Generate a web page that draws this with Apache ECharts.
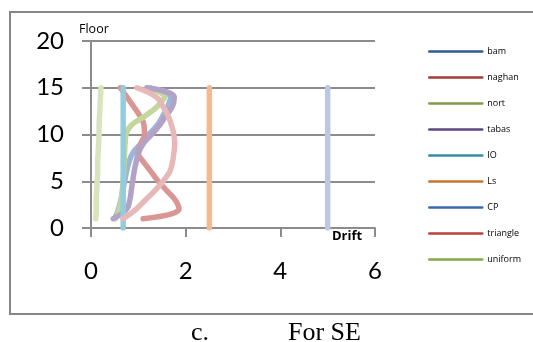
<!DOCTYPE html>
<html>
<head>
<meta charset="utf-8">
<script src="https://cdn.jsdelivr.net/npm/echarts@6/dist/echarts.min.js"></script>
<style>
html,body{margin:0;padding:0;background:#fff;overflow:hidden;}
#c{width:533px;height:342px;}
</style>
</head>
<body>
<div id="c"></div>
<script>
// Floors (storey numbers) for the profile series
const floors   = [1, 2, 3, 4, 5, 6, 7, 8, 9, 10, 11, 12, 13, 14, 15];
// Drift values per floor
const bam      = [0.50, 0.58, 0.63, 0.67, 0.71, 0.75, 0.80, 0.88, 1.05, 1.22, 1.40, 1.52, 1.62, 1.68, 1.20];
const naghan   = [1.10, 1.86, 1.78, 1.60, 1.42, 1.27, 1.12, 1.00, 1.05, 1.13, 1.12, 1.03, 0.90, 0.76, 0.62];
const nort     = [0.52, 0.60, 0.64, 0.66, 0.68, 0.69, 0.70, 0.71, 0.72, 0.74, 0.85, 1.15, 1.40, 1.55, 1.22];
const tabas    = [0.47, 0.75, 0.82, 0.85, 0.88, 0.91, 0.95, 1.00, 1.10, 1.28, 1.45, 1.58, 1.72, 1.76, 1.18];
const triangle = [0.68, 0.95, 1.15, 1.35, 1.52, 1.66, 1.72, 1.75, 1.77, 1.75, 1.70, 1.63, 1.52, 1.38, 0.97];
const uniform  = [0.10, 0.11, 0.11, 0.12, 0.13, 0.14, 0.14, 0.15, 0.16, 0.17, 0.17, 0.18, 0.19, 0.20, 0.21];
// Performance limits (vertical lines from floor 0 to 15)
const limitFloors = [0, 15];
const IO = 0.68;
const Ls = 2.5;
const CP = 5.0;

const seriesNames = ['bam', 'naghan', 'nort', 'tabas', 'IO', 'Ls', 'CP', 'triangle', 'uniform'];
const xTicks = { min: 0, max: 6, interval: 2 };
const yTicks = { min: 0, max: 20, interval: 5 };

const plotColor = {
  bam: '#9DB6D8', naghan: '#D99694', nort: '#C3D69B', tabas: '#B3A2C7',
  IO: '#93CDDD', Ls: '#F7B990', CP: '#B9C9E2', triangle: '#E6B9B8', uniform: '#D7E4BD'
};
const legendColor = {
  bam: '#2F5B94', naghan: '#A33D3A', nort: '#7C9C47', tabas: '#5E4A82', IO: '#358DA5',
  Ls: '#C87731', CP: '#3A6AAE', triangle: '#B8423F', uniform: '#86A84A'
};

const profile = { bam, naghan, nort, tabas, triangle, uniform };
const limits = { IO, Ls, CP };

function seriesData(name) {
  if (profile[name]) return floors.map((f, i) => [profile[name][i], f]);
  return limitFloors.map(f => [limits[name], f]);
}

const axisGray = '#8C8C8C';
const chart = echarts.init(document.getElementById('c'));
chart.setOption({
  animation: false,
  grid: { left: 91, right: 158, top: 41, bottom: 114 },
  xAxis: {
    type: 'value', min: xTicks.min, max: xTicks.max, interval: xTicks.interval,
    axisLine: { show: true, lineStyle: { color: axisGray, width: 2 } },
    axisTick: { show: true, length: 9, lineStyle: { color: axisGray, width: 2 } },
    splitLine: { show: false },
    axisLabel: { margin: 31, fontSize: 24, color: '#000', fontFamily: 'Lato' }
  },
  yAxis: {
    type: 'value', min: yTicks.min, max: yTicks.max, interval: yTicks.interval,
    axisLine: { show: true, lineStyle: { color: axisGray, width: 2 } },
    axisTick: { show: true, length: 9, lineStyle: { color: axisGray, width: 2 } },
    splitLine: { show: true, lineStyle: { color: axisGray, width: 2 } },
    axisLabel: { margin: 27, fontSize: 24, color: '#000', fontFamily: 'Lato' }
  },
  legend: {
    orient: 'vertical', left: 423, top: 41,
    itemWidth: 53, itemHeight: 14, itemGap: 14.8,
    textStyle: { fontSize: 9, color: '#000', fontFamily: 'Open Sans' },
    data: seriesNames.map(n => ({
      name: n,
      itemStyle: { opacity: 0 },
      lineStyle: { color: legendColor[n], width: 2.5, opacity: 1 }
    }))
  },
  series: seriesNames.map(n => ({
    name: n, type: 'line', data: seriesData(n),
    symbol: 'none', showSymbol: false, smooth: 0.4,
    color: legendColor[n],
    lineStyle: { color: plotColor[n], width: 5.5, cap: 'round', join: 'round' }
  })),
  graphic: [
    { type: 'polyline', z: -10, shape: { points: [[640, 12], [10, 12], [10, 314], [640, 314]] }, style: { fill: 'none', stroke: '#868686', lineWidth: 2 } },
    { type: 'text', left: 79, top: 23, style: { text: 'Floor', font: '12.5px "Open Sans"', fill: '#000' } },
    { type: 'text', left: 332, top: 230, style: { text: 'Drift', font: 'bold 13px "Open Sans"', fill: '#000' } },
    { type: 'text', x: 191, y: 346, style: { text: 'c.', font: '26px "Liberation Serif"', fill: '#000', verticalAlign: 'bottom' } },
    { type: 'text', x: 288, y: 346, style: { text: 'For SE', font: '26px "Liberation Serif"', fill: '#000', verticalAlign: 'bottom' } }
  ]
});
</script>
</body>
</html>
